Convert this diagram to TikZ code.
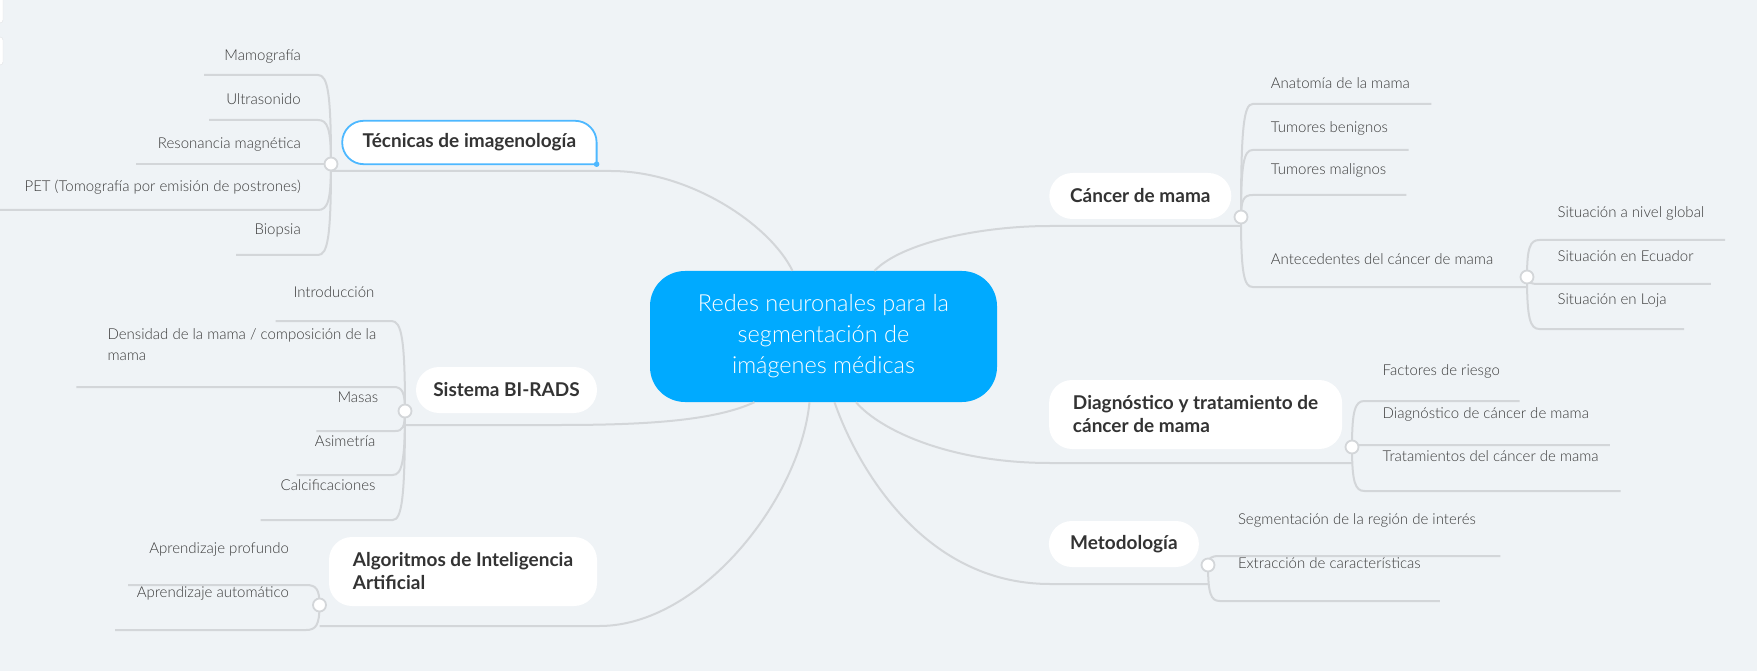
\documentclass[tikz,border=0pt]{standalone}
\usepackage{fontspec}
\setmainfont{Lato}
\newfontfamily\thinfont{Lato Light}
\usetikzlibrary{calc,backgrounds}
\definecolor{bgcol}{HTML}{EFF3F6}
\definecolor{linecol}{HTML}{D3D6D9}
\definecolor{rootcol}{HTML}{00AAFF}
\definecolor{selcol}{HTML}{4DB8FF}
\definecolor{leafcol}{HTML}{3A3A3A}
\definecolor{topiccol}{HTML}{333333}
\tikzset{
  root/.style={fill=rootcol, rounded corners=35pt, text=white, align=center,
    font=\thinfont\fontsize{23.5}{31}\selectfont, minimum width=347pt, minimum height=131pt},
  topic/.style={fill=white, rounded corners=23pt, text=topiccol, align=left, inner sep=0pt,
    font=\fontsize{19}{23}\selectfont\bfseries},
  leaf/.style={text=leafcol, font=\thinfont\fontsize{15}{21}\selectfont, text height=11pt, text depth=0pt},
  leafL/.style={leaf, anchor=south east, align=right, inner xsep=17pt},
  leafR/.style={leaf, anchor=south west, align=left, inner xsep=18pt},
  link/.style={draw=linecol, line width=2pt},
  branch/.style={to path={.. controls ($(\tikztostart)!0.8!(\tikztostart|-\tikztotarget)$)
    and ($(\tikztotarget)!0.75!(\tikztostart|-\tikztotarget)$) .. (\tikztotarget)}},
  knob/.style={circle, draw=linecol, fill=white, line width=1.8pt, minimum size=13pt, inner sep=0pt},
}
\begin{document}
\begin{tikzpicture}[x=1pt,y=-1pt]
  \useasboundingbox (0,0) rectangle (1757,671);
  \begin{scope}[on background layer]
    \fill[bgcol] (0,0) rectangle (1757,671);
  \end{scope}
  % panels cut off at the left edge
  \draw[linecol!70, fill=white, rounded corners=3pt] (-10,-4) rectangle (3,23);
  \draw[linecol!70, fill=white, rounded corners=3pt] (-10,37) rectangle (3,65);

  % centre and main topics
  \node[root] (root) at (823.5,336.5) {Redes neuronales para la\\segmentación de\\imágenes médicas};
  \node[topic, fill=none, minimum width=254pt, minimum height=43pt] (tec) at (469.4,142.5) {Técnicas de imagenología};
  \node[topic, minimum width=181pt, minimum height=46pt] (bir) at (506.5,390) {Sistema BI-RADS};
  \node[topic, minimum width=268pt, minimum height=69pt] (alg) at (463,571.5) {Algoritmos de Inteligencia\\Artificial};
  \node[topic, minimum width=182pt, minimum height=46pt] (can) at (1140.3,196) {Cáncer de mama};
  \node[topic, minimum width=293pt, minimum height=69pt] (dia) at (1195.6,414.5) {Diagnóstico y tratamiento de\\cáncer de mama};
  \node[topic, minimum width=150pt, minimum height=46pt] (met) at (1123.9,544) {Metodología};
  % selected topic: square lower right corner with a handle
  \begin{scope}[on background layer]
    \filldraw[fill=white, draw=selcol, line width=1.8pt, line cap=rect, rounded corners=21.5pt]
      (tec.south east) -- (tec.south west) -- (tec.north west) -- (tec.north east) -- (tec.south east);
  \end{scope}
  \fill[selcol] (tec.south east) circle (2.8pt);

  % where the branches meet
  \coordinate (tecDot) at (331,164);  \coordinate (tecHub) at (331,171);
  \coordinate (birDot) at (405,411);  \coordinate (birHub) at (405,425);
  \coordinate (algDot) at (319.5,605);  \coordinate (algHub) at (319.5,626);
  \coordinate (canDot) at (1241,217); \coordinate (canHub) at (1241,226);
  \coordinate (antDot) at (1527,277);
  \coordinate (diaDot) at (1352,447); \coordinate (diaHub) at (1352,463);
  \coordinate (metDot) at (1208,565); \coordinate (metHub) at (1208,584);

  % leaves, left
  \node[leafL, inner ysep=14.5pt] (mamo) at (318,75) {Mamografía};
  \node[leafL, inner ysep=15.5pt] (ultra) at (318,120) {Ultrasonido};
  \node[leafL, inner ysep=15.5pt] (reso) at (318,164) {Resonancia magnética};
  \node[leafL, inner ysep=18.5pt] (pet) at (318,210) {PET (Tomografía por emisión de postrones)};
  \node[leafL, inner ysep=20.5pt] (bio) at (318,255) {Biopsia};
  \node[leafL, inner ysep=23pt] (intro) at (391.5,321) {Introducción};
  \node[leafL, align=left, inner ysep=26pt] (dens) at (393.4,387) {Densidad de la mama / composición de la\\mama};
  \node[leafL, inner ysep=28pt] (masas) at (395.4,431) {Masas};
  \node[leafL, inner ysep=28pt] (asim) at (392.6,475) {Asimetría};
  \node[leafL, inner ysep=29pt] (calc) at (392.6,520) {Calcificaciones};
  \node[leafL, inner ysep=31pt] (prof) at (306,585) {Aprendizaje profundo};
  \node[leafL, inner ysep=32pt] (auto) at (306,630) {Aprendizaje automático};

  % leaves, right
  \node[leafR, inner ysep=15pt] (anat) at (1252.7,104) {Anatomía de la mama};
  \node[leafR, inner ysep=17pt] (beni) at (1252.7,150) {Tumores benignos};
  \node[leafR, inner ysep=20pt] (mali) at (1252.7,195) {Tumores malignos};
  \node[leafR, inner ysep=22pt] (ante) at (1252.7,287) {Antecedentes del cáncer de mama};
  \node[leafR, inner ysep=22pt] (glob) at (1539.4,240) {Situación a nivel global};
  \node[leafR, inner ysep=22pt] (ecua) at (1539.4,284) {Situación en Ecuador};
  \node[leafR, inner ysep=24pt] (loja) at (1539.4,329) {Situación en Loja};
  \node[leafR, inner ysep=25pt] (fact) at (1364.5,401) {Factores de riesgo};
  \node[leafR, inner ysep=26pt] (diag) at (1364.5,445) {Diagnóstico de cáncer de mama};
  \node[leafR, inner ysep=29pt] (trat) at (1364.5,491) {Tratamientos del cáncer de mama};
  \node[leafR, inner ysep=31pt] (segm) at (1219.8,556) {Segmentación de la región de interés};
  \node[leafR, inner ysep=32pt] (extr) at (1219.8,601) {Extracción de características};

  % main connectors
  \draw[link] ([xshift=-31pt]root.north) .. controls +(-22.5,-46) and +(79,0) .. ($(tecHub)+(280,0)$) -- (tecHub);
  \draw[link] ([xshift=51pt]root.north) .. controls +(27,-28) and +(-70,0) .. ($(canHub)+(-191,0)$) -- (canHub);
  \draw[link] ([xshift=-69pt]root.south) .. controls +(-39,18) and +(90,0) .. ($(birHub)+(155,0)$) -- (birHub);
  \draw[link] ([xshift=-14pt]root.south) .. controls +(-9.6,98) and +(100,0) .. ($(algHub)+(280,0)$) -- (algHub);
  \draw[link] ([xshift=11pt]root.south) .. controls +(20,58) and +(-130,0) .. ($(metHub)+(-158,0)$) -- (metHub);
  \draw[link] ([xshift=32.5pt]root.south) .. controls +(24,28) and +(-100,0) .. ($(diaHub)+(-302,0)$) -- (diaHub);

  % leaf connectors
  \foreach \n/\l in {mamo/114, ultra/109, reso/182, pet/330, bio/82}
    \draw[link] (tecDot) to[branch] (\n.south east) -- ++(-\l,0);
  \foreach \n/\l in {intro/116, dens/317, masas/79, asim/96, calc/132}
    \draw[link] (birDot) to[branch] (\n.south east) -- ++(-\l,0);
  \foreach \n/\l in {prof/178, auto/191}
    \draw[link] (algDot) to[branch] (\n.south east) -- ++(-\l,0);
  \foreach \n/\l in {anat/178.6, beni/156, mali/153.6, ante/274.3}
    \draw[link] (canDot) to[branch] (\n.south west) -- ++(\l,0);
  \foreach \n/\l in {glob/185.6, ecua/171.5, loja/144.7}
    \draw[link] (antDot) to[branch] (\n.south west) -- ++(\l,0);
  \foreach \n/\l in {fact/155, diag/245.4, trat/256.2}
    \draw[link] (diaDot) to[branch] (\n.south west) -- ++(\l,0);
  \foreach \n/\l in {segm/280.6, extr/220}
    \draw[link] (metDot) to[branch] (\n.south west) -- ++(\l,0);

  % collapse knobs
  \foreach \d in {tecDot, birDot, algDot, canDot, antDot, diaDot, metDot}
    \node[knob] at (\d) {};
\end{tikzpicture}
\end{document}
